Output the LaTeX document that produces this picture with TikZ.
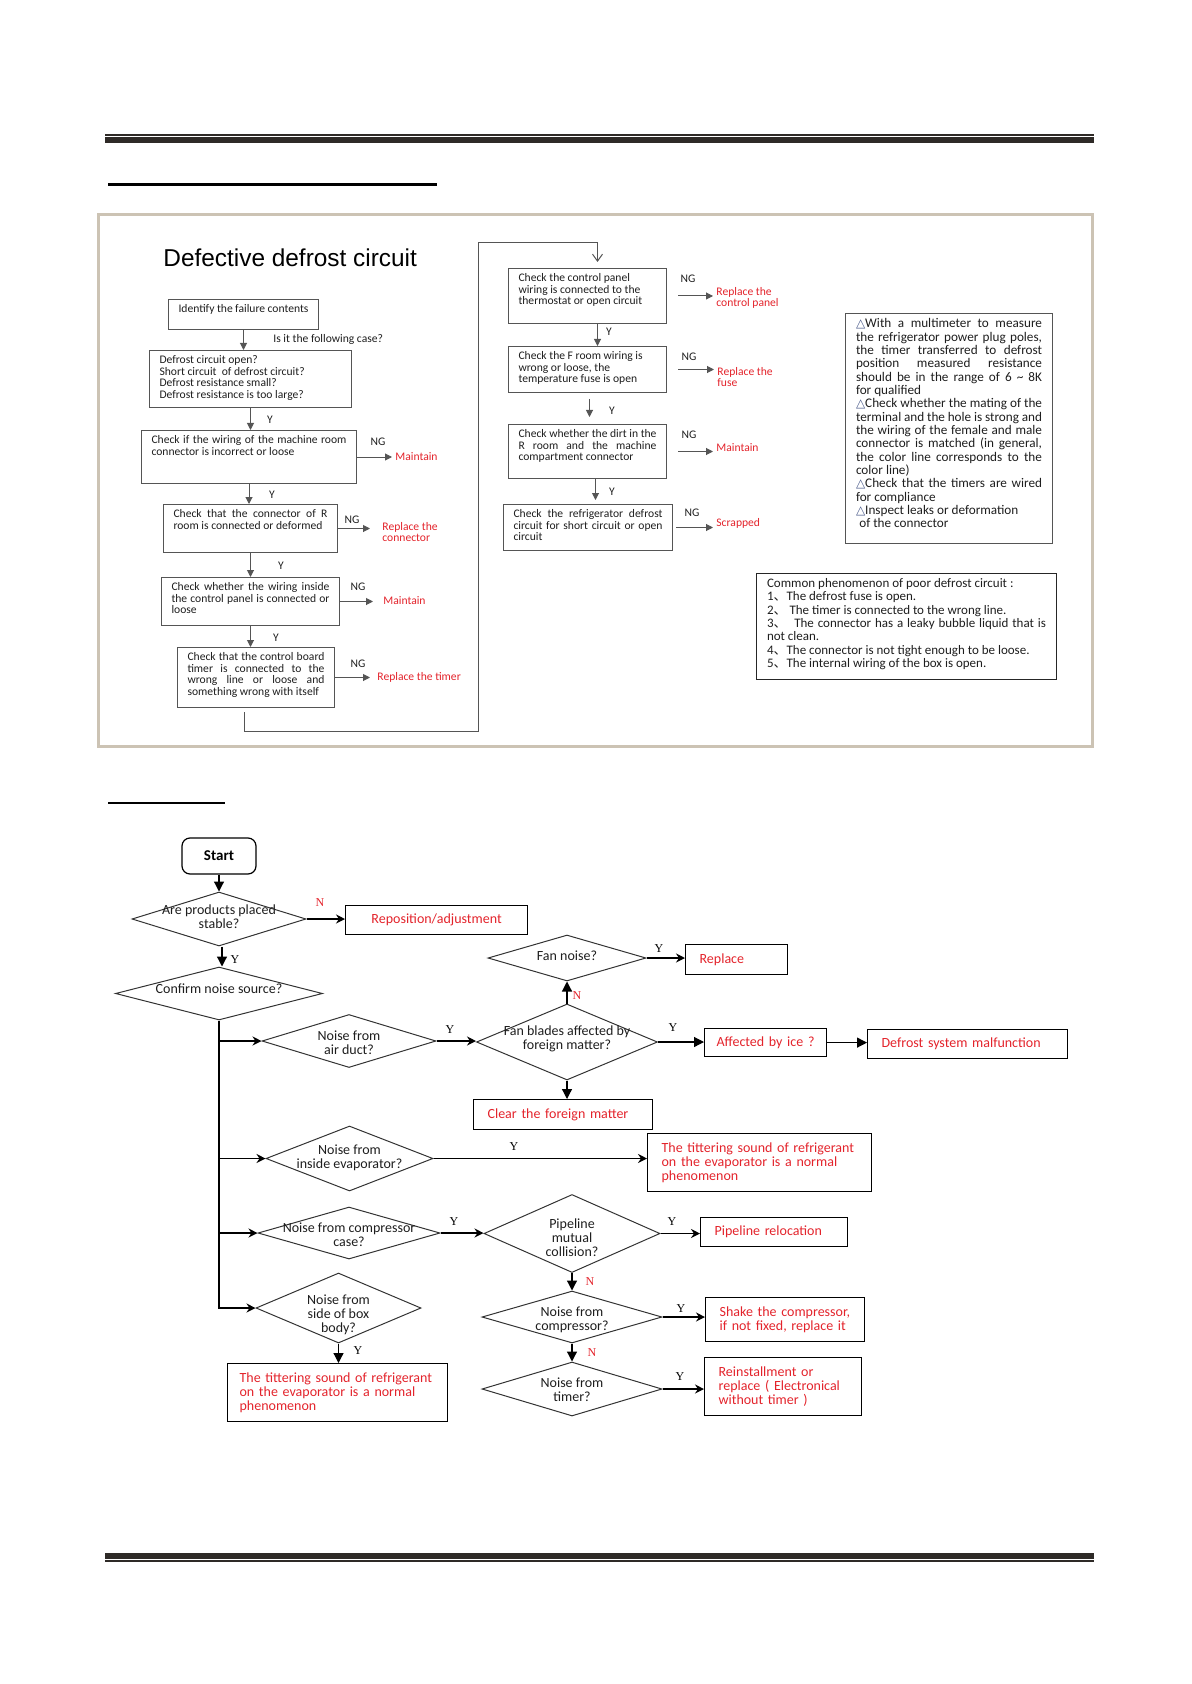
\documentclass[tikz,border=0pt]{standalone}
\usepackage{fontspec}
\setmainfont{Carlito}
\newfontfamily\titlesans{Liberation Sans}
\newfontfamily\ynserif{Liberation Serif}
\newfontfamily\symsans{DejaVu Sans}
\newfontfamily\cjksans{Noto Sans CJK SC}
\usetikzlibrary{shapes.geometric,arrows.meta}

\definecolor{rulegray}{HTML}{2E2A27}
\definecolor{framegray}{HTML}{CCC3B4}
\definecolor{boxgray}{HTML}{555555}
\definecolor{diagray}{HTML}{333333}
\definecolor{txtdark}{HTML}{1E1E1E}
\definecolor{txtred}{HTML}{E3232B}
\definecolor{trigray}{HTML}{4A5A8A}

\newcommand{\topfont}{\fontsize{5.8}{5.85}\selectfont}
\newcommand{\notefont}{\fontsize{6.6}{6.67}\selectfont}
\newcommand{\comfont}{\fontsize{6.5}{6.67}\selectfont}
\newcommand{\botfont}{\fontsize{7}{6.9}\selectfont}
\newcommand{\dtri}{{\symsans\fontsize{6}{6.67}\selectfont\color{trigray}\char"25B3}}
\newcommand{\cjkcomma}{{\cjksans\char"3001}}
\newcommand{\boxtxt}[3]{\parbox[c][#2][t]{#1}{#3}}
\newcommand{\dtxt}[2][0pt]{\smash{\makebox[0pt]{\raisebox{\dimexpr#1-1.75pt\relax}{\begin{tabular}{@{}c@{}}#2\end{tabular}}}}}

\begin{document}
\begin{tikzpicture}[x=0.5pt,y=-0.5pt,
  tbox/.style={draw=boxgray, line width=0.5pt, anchor=north west, inner xsep=5pt, inner ysep=2.5pt, font=\topfont, text=txtdark},
  lbl/.style={inner sep=0.5pt, font=\topfont, text=txtdark},
  redlbl/.style={anchor=west, inner sep=1.5pt, font=\topfont, text=txtred, align=left},
  tarr/.style={draw=boxgray, line width=0.5pt, -{Triangle[length=3.5pt,width=3.5pt]}},
  loopln/.style={draw=boxgray, line width=0.5pt, -{Straight Barb[length=3.5pt,width=5pt]}},
  dia/.style={diamond, draw=diagray, line width=0.5pt, inner sep=0pt, font=\botfont, text=txtdark},
  rbox/.style={draw=black, line width=0.6pt, anchor=north west, inner xsep=7pt, inner ysep=0pt, font=\botfont, text=txtred, align=left},
  varr/.style={line width=0.6pt, -{Triangle[length=5pt,width=5pt]}},
  harr/.style={line width=0.6pt, -{Stealth[length=4.5pt,width=4.5pt,inset=1.5pt]}},
  yn/.style={inner sep=0pt, font=\ynserif\fontsize{6}{6}\selectfont},
]
\useasboundingbox (0,0) rectangle (1191,1684);

%page rules%
\draw[rulegray, line width=1pt] (105,135) -- (1094,135);
\draw[rulegray, line width=3pt] (105,140) -- (1094,140);
\draw[black, line width=1.5pt] (108,184.5) -- (437,184.5);
\draw[black, line width=1pt] (108,803) -- (225,803);
\draw[rulegray, line width=3pt] (105,1556) -- (1094,1556);
\draw[rulegray, line width=1pt] (105,1561) -- (1094,1561);

%frame of the defrost chart%
\draw[framegray, line width=1.5pt] (98,215) rectangle (1092,746);
\node[anchor=base west, inner sep=0pt, font=\titlesans\fontsize{12.2}{14}\selectfont] (ttl) at (163,267) {Defective defrost circuit};

%left column%
\node[tbox] (ident) at (168,299) {\boxtxt{65pt}{10pt}{Identify the failure contents}};
\node[tbox] (cases) at (149,350) {\boxtxt{91pt}{23.5pt}{Defrost circuit open?\\Short circuit\ \ of defrost circuit?\\Defrost resistance small?\\Defrost resistance is too large?}};
\node[tbox] (mroom) at (141,430) {\boxtxt{97.5pt}{21.5pt}{Check if the wiring of the machine room \linebreak connector is incorrect or loose}};
\node[tbox] (rconn) at (163,504) {\boxtxt{77pt}{19pt}{Check that the connector of R \linebreak room is connected or deformed}};
\node[tbox] (cpanel) at (161,577) {\boxtxt{79pt}{19pt}{Check whether the wiring inside \linebreak the control panel is connected or \linebreak loose}};
\node[tbox] (timer) at (177,647) {\boxtxt{68.5pt}{25pt}{Check that the control board \linebreak timer is connected to the \linebreak wrong line or loose and \linebreak something wrong with itself}};

\draw[tarr] (ident.south) -- (ident.south |- cases.north);
\node[lbl, anchor=west] (qcase) at (272,339) {Is it the following case?};
\draw[tarr] (cases.south) -- (cases.south |- mroom.north);
\node[lbl] (y1) at (270,420) {Y};
\draw[tarr] (mroom.south) -- (mroom.south |- rconn.north);
\node[lbl] (y2) at (272,495) {Y};
\draw[tarr] (rconn.south) -- (rconn.south |- cpanel.north);
\node[lbl] (y3) at (281,566) {Y};
\draw[tarr] (cpanel.south) -- (cpanel.south |- timer.north);
\node[lbl] (y4) at (276,638) {Y};

\node[redlbl] (mt1) at (392,457) {Maintain};
\node[redlbl] (repc) at (379,532) {Replace the\\connector};
\node[redlbl] (mt2) at (380,601) {Maintain};
\node[redlbl] (rept) at (374,677) {Replace the timer};
\draw[tarr] (mroom.east) -- (mroom.east -| mt1.west);
\draw[tarr, shorten >=4.5pt] (rconn.east) -- (rconn.east -| repc.west);
\draw[tarr, shorten >=3.5pt] (cpanel.east) -- (cpanel.east -| mt2.west);
\draw[tarr, shorten >=2pt] (timer.east) -- (timer.east -| rept.west);
\node[lbl] (ng1) at (378,442) {NG};
\node[lbl] (ng2) at (352,520) {NG};
\node[lbl] (ng3) at (358,587) {NG};
\node[lbl] (ng4) at (358,664) {NG};

%right column%
\node[tbox] (cpwire) at (508,268) {\boxtxt{69pt}{22.5pt}{Check the control panel\\wiring is connected to the\\thermostat or open circuit}};
\node[tbox] (froom) at (508,346) {\boxtxt{69pt}{18pt}{Check the F room wiring is\\wrong or loose, the\\temperature fuse is open}};
\node[tbox] (dirt) at (508,424) {\boxtxt{69pt}{22pt}{Check whether the dirt in the \linebreak R room and the machine \linebreak compartment connector}};
\node[tbox] (defc) at (503,504) {\boxtxt{74.5pt}{18pt}{Check the refrigerator defrost \linebreak circuit for short circuit or open \linebreak circuit}};

\coordinate (lp) at (244,712);
\draw[loopln] (lp) |- (478,731) -- (478,243) -| ([xshift=5pt,yshift=3pt]cpwire.north);

\draw[tarr] ([xshift=5pt]cpwire.south) -- ([xshift=5pt]cpwire.south |- froom.north);
\node[lbl] (y5) at (609,332) {Y};
\draw[tarr, shorten <=3pt, shorten >=3.5pt] ([xshift=1pt]froom.south) -- ([xshift=1pt]froom.south |- dirt.north);
\node[lbl] (y6) at (612,411) {Y};
\draw[tarr, shorten >=2pt] ([xshift=4pt]dirt.south) -- ([xshift=4pt]dirt.south |- defc.north);
\node[lbl] (y7) at (612,492) {Y};

\node[redlbl] (repcp) at (713,298) {Replace the\\control panel};
\node[redlbl] (repf) at (714,377) {Replace the\\fuse};
\node[redlbl] (mt3) at (713,448) {Maintain};
\node[redlbl] (scr) at (713,523) {Scrapped};
\draw[tarr, shorten <=5.5pt] (cpwire.east) -- (cpwire.east -| repcp.west);
\draw[tarr, shorten <=5.5pt] (froom.east) -- (froom.east -| repf.west);
\draw[tarr, shorten <=5.5pt] (dirt.east) -- (dirt.east -| mt3.west);
\draw[tarr, shorten <=1.5pt] (defc.east) -- (defc.east -| scr.west);
\node[lbl] (ng5) at (688,279) {NG};
\node[lbl] (ng6) at (689,357) {NG};
\node[lbl] (ng7) at (689,435) {NG};
\node[lbl] (ng8) at (692,513) {NG};

%notes%
\node[tbox, inner xsep=5.25pt, font=\notefont] (note) at (845,313) {\boxtxt{93pt}{110pt}{%
\dtri With a multimeter to measure \linebreak the refrigerator power plug poles, \linebreak the timer transferred to defrost \linebreak position measured resistance \linebreak should be in the range of 6 \textasciitilde{} 8K \linebreak for qualified\par
\dtri Check whether the mating of the \linebreak terminal and the hole is strong and \linebreak the wiring of the female and male \linebreak connector is matched (in general, \linebreak the color line corresponds to the \linebreak color line)\par
\dtri Check that the timers are wired \linebreak for compliance\par
\dtri Inspect leaks or deformation\\\hspace*{0.25em}of the connector}};
\node[tbox, draw=black!85, inner xsep=5.25pt, font=\comfont] (common) at (756,573) {\boxtxt{139.5pt}{48pt}{%
Common phenomenon of poor defrost circuit :\\
1\cjkcomma The defrost fuse is open.\\
2\cjkcomma\ The timer is connected to the wrong line.\\
3\cjkcomma\ \ The connector has a leaky bubble liquid that is \linebreak not clean.\\
4\cjkcomma The connector is not tight enough to be loose.\\
5\cjkcomma The internal wiring of the box is open.}};

%noise flow chart%
\node[draw, rounded corners=4pt, line width=0.6pt, minimum width=37pt, minimum height=18pt, font=\bfseries\fontsize{7.5}{8}\selectfont] (start) at (219,856) {Start};
\node[dia, minimum width=87pt, minimum height=27pt] (stable) at (219,919) {\dtxt{Are products placed\\stable?}};
\node[dia, minimum width=103.5pt, minimum height=26.5pt] (source) at (219,993.5) {\dtxt[1.5pt]{Confirm noise source?}};
\node[dia, minimum width=87pt, minimum height=26.5pt] (duct) at (349,1041) {\dtxt[-2pt]{Noise from\\air duct?}};
\node[dia, minimum width=90.5pt, minimum height=38pt] (blades) at (567,1042) {\dtxt[1pt]{Fan blades affected by\\foreign matter?}};
\node[dia, minimum width=79pt, minimum height=23pt] (fan) at (567,958) {\dtxt{Fan noise?}};
\node[dia, minimum width=83.5pt, minimum height=32.5pt] (evap) at (349.5,1158.5) {\dtxt{Noise from\\inside evaporator?}};
\node[dia, minimum width=91pt, minimum height=26pt] (ccase) at (349,1233) {\dtxt[-2pt]{Noise from compressor\\case?}};
\node[dia, minimum width=88pt, minimum height=39pt] (pipe) at (572,1233.5) {\dtxt[-3pt]{Pipeline\\mutual\\collision?}};
\node[dia, minimum width=90pt, minimum height=26pt] (comp) at (572,1317) {\dtxt[-2pt]{Noise from\\compressor?}};
\node[dia, minimum width=90pt, minimum height=27pt] (tmr) at (572,1389) {\dtxt[-1.5pt]{Noise from\\timer?}};
\node[dia, minimum width=82.5pt, minimum height=35pt] (side) at (338.5,1308) {\dtxt[-4pt]{Noise from\\side of box\\body?}};

\node[rbox, align=center, text width=77pt, minimum height=14.5pt] (repos) at (345,905) {Reposition/adjustment};
\node[rbox, text width=37pt, minimum height=15pt] (repl) at (685,944) {Replace};
\node[rbox, inner xsep=6pt, text width=49pt, minimum height=14pt] (ice) at (704,1028) {Affected by ice ?};
\node[rbox, text width=86pt, minimum height=14.5pt] (dsm) at (867,1029) {Defrost system malfunction};
\node[rbox, text width=75.5pt, minimum height=15pt] (clear) at (473,1099) {Clear the foreign matter};
\node[rbox, text width=98pt, minimum height=29pt] (titt) at (647,1133) {The tittering sound of refrigerant\\on the evaporator is a normal\\phenomenon};
\node[rbox, text width=59.5pt, minimum height=14.5pt] (reloc) at (700,1217) {Pipeline relocation};
\node[rbox, text width=65.5pt, minimum height=22pt] (shake) at (705,1297) {Shake the compressor,\\if not fixed, replace it};
\node[rbox, text width=64.5pt, minimum height=29pt] (reinst) at (704,1357) {Reinstallment or\\replace ( Electronical\\without timer )};
\node[rbox, inner xsep=6pt, text width=98pt, minimum height=29pt] (titt2) at (227,1363) {The tittering sound of refrigerant\\on the evaporator is a normal\\phenomenon};

\draw[varr] (start.south) -- (stable.north);
\draw[harr] (stable.east) -- (stable.east -| repos.west);
\node[yn, text=txtred] (n1) at (320,903) {N};
\draw[varr] ([xshift=1.5pt]stable.south) -- ([xshift=1.5pt]source.north);
\node[yn] (yb1) at (235,960) {Y};
\draw[harr] (source.south) |- (side.west);
\draw[harr] (source.south |- duct.west) -- (duct.west);
\draw[harr] (source.south |- evap.west) -- (evap.west);
\draw[harr] (source.south |- ccase.west) -- (ccase.west);

\draw[harr] (duct.east) -- (duct.east -| blades.west);
\node[yn] (yb2) at (450,1030) {Y};
\draw[varr] (blades.north) -- (fan.south);
\node[yn, text=txtred] (n2) at (577,996) {N};
\draw[harr] (fan.east) -- (fan.east -| repl.west);
\node[yn] (yb3) at (659,949) {Y};
\draw[varr] (blades.east) -- (blades.east -| ice.west);
\node[yn] (yb4) at (673,1028) {Y};
\draw[varr] (ice.east) -- (ice.east -| dsm.west);
\draw[varr] (blades.south) -- (blades.south |- clear.north);

\draw[harr] (evap.east) -- (evap.east -| titt.west);
\node[yn] (yb5) at (514,1147) {Y};
\draw[harr] (ccase.east) -- (ccase.east -| pipe.west);
\node[yn] (yb6) at (454,1222) {Y};
\draw[harr] (pipe.east) -- (pipe.east -| reloc.west);
\node[yn] (yb7) at (672,1222) {Y};
\draw[varr] (pipe.south) -- (comp.north);
\node[yn, text=txtred] (n3) at (590,1282) {N};
\draw[harr] (comp.east) -- (comp.east -| shake.west);
\node[yn] (yb8) at (681,1309) {Y};
\draw[varr] (comp.south) -- (tmr.north);
\node[yn, text=txtred] (n4) at (592,1353) {N};
\draw[harr] (tmr.east) -- (tmr.east -| reinst.west);
\node[yn] (yb9) at (680,1377) {Y};
\draw[varr] (side.south) -- (side.south |- titt2.north);
\node[yn] (yb10) at (358,1351) {Y};

\end{tikzpicture}
\end{document}
